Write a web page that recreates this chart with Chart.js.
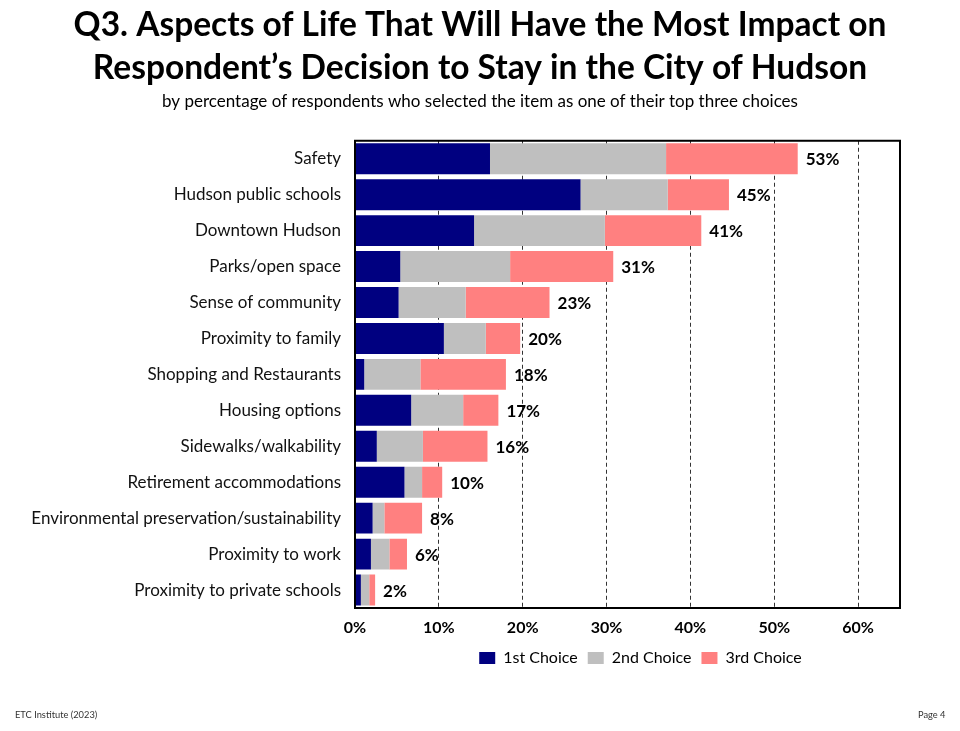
<!DOCTYPE html>
<html><head><meta charset="utf-8">
<script src="https://cdn.jsdelivr.net/npm/chart.js@4.4.0/dist/chart.umd.min.js"></script>
<style>
html,body{margin:0;padding:0;background:#fff;}
#wrap{position:relative;width:960px;height:731px;}
canvas{display:block}
.foot{position:absolute;font-family:Lato, sans-serif;font-size:9.3px;color:#333;top:709px;white-space:nowrap;}
</style></head><body>
<div id="wrap"><canvas id="c" width="960" height="731"></canvas>
<div class="foot" style="left:15px">ETC Institute (2023)</div>
<div class="foot" style="left:918px">Page 4</div></div>
<script>
const categories = ['Safety','Hudson public schools','Downtown Hudson','Parks/open space','Sense of community','Proximity to family','Shopping and Restaurants','Housing options','Sidewalks/walkability','Retirement accommodations','Environmental preservation/sustainability','Proximity to work','Proximity to private schools'];
const firstChoice  = [16.1, 26.9, 14.2, 5.4, 5.2, 10.6, 1.1, 6.7, 2.6, 5.9, 2.1, 1.9, 0.7];
const secondChoice = [21.0, 10.4, 15.6, 13.1, 8.0, 5.0, 6.7, 6.2, 5.5, 2.1, 1.4, 2.2, 1.0];
const thirdChoice  = [15.7, 7.3, 11.5, 12.3, 10.0, 4.1, 10.2, 4.2, 7.7, 2.4, 4.5, 2.1, 0.7];
const totalLabels  = ['53%','45%','41%','31%','23%','20%','18%','17%','16%','10%','8%','6%','2%'];
const seriesNames  = ['1st Choice','2nd Choice','3rd Choice'];
const titleLines   = ['Q3. Aspects of Life That Will Have the Most Impact on','Respondent\u2019s Decision to Stay in the City of Hudson'];
const subtitleText = 'by percentage of respondents who selected the item as one of their top three choices';

const FONT = 'Lato';

const boxPlugin = {
  id: 'boxAndLabels',
  afterLayout(chart) {
    const lg = chart.legend;
    if (lg) { lg.left += 13; lg.right += 13; lg.top += 2; lg.bottom += 2; }
  },
  afterDatasetsDraw(chart) {
    const {ctx, chartArea: a, scales: {x, y}} = chart;
    ctx.save();
    ctx.font = 'bold 17px ' + FONT;
    ctx.fillStyle = '#000';
    ctx.textBaseline = 'middle';
    ctx.textAlign = 'left';
    categories.forEach((c, i) => {
      const total = firstChoice[i] + secondChoice[i] + thirdChoice[i];
      ctx.fillText(totalLabels[i], x.getPixelForValue(total) + 8, y.getPixelForValue(i) + 1);
    });
    ctx.strokeStyle = '#000';
    ctx.lineWidth = 2;
    ctx.strokeRect(a.left, a.top, a.right - a.left, a.bottom - a.top);
    ctx.restore();
  }
};

new Chart(document.getElementById('c'), {
  type: 'bar',
  data: {
    labels: categories,
    datasets: [
      {label: seriesNames[0], data: firstChoice, backgroundColor: '#000080'},
      {label: seriesNames[1], data: secondChoice, backgroundColor: '#BFBFBF'},
      {label: seriesNames[2], data: thirdChoice, backgroundColor: '#FF8080'}
    ]
  },
  options: {
    indexAxis: 'y',
    responsive: false,
    animation: false,
    layout: {padding: {left: 30, right: 30, top: 0, bottom: 57}},
    datasets: {bar: {categoryPercentage: 1, barPercentage: 0.86, borderWidth: 0}},
    scales: {
      x: {
        stacked: true, min: 0, max: 65,
        afterBuildTicks: s => { s.ticks = s.ticks.filter(t => t.value <= 60); },
        afterFit: s => { s.height = 30; },
        ticks: {stepSize: 10, padding: 10, color: '#000', font: {family: FONT, size: 16, weight: 'bold'}, callback: v => v + '%'},
        grid: {color: '#333', lineWidth: 1, drawTicks: false},
        border: {display: false, dash: [4, 3]}
      },
      y: {
        stacked: true,
        afterFit: s => { s.width = 325; },
        ticks: {padding: 14, color: '#111', font: {family: FONT, size: 17}},
        grid: {display: false, drawTicks: false},
        border: {display: false}
      },
      y2: {
        type: 'category', position: 'right', labels: categories,
        afterFit: s => { s.width = 30; },
        ticks: {display: false},
        grid: {display: false, drawTicks: false},
        border: {display: false}
      }
    },
    plugins: {
      title: {display: true, text: titleLines, color: '#000', font: {family: FONT, size: 33.5, weight: 'bold', lineHeight: 1.28}, padding: {top: 3.5, bottom: 2.3}},
      subtitle: {display: true, text: subtitleText, color: '#000', font: {family: FONT, size: 17, lineHeight: 1.2}, padding: {top: 0, bottom: 28.8}},
      legend: {position: 'bottom', fullSize: false, labels: {boxWidth: 16, boxHeight: 12, padding: 10, color: '#000', font: {family: FONT, size: 16}}},
      tooltip: {enabled: false}
    }
  },
  plugins: [boxPlugin]
});
</script>
</body></html>
